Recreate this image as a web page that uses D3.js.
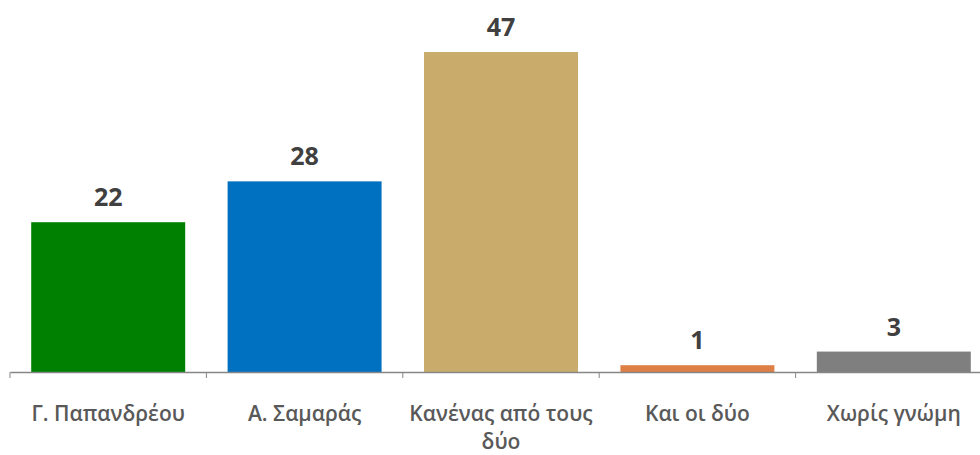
<!DOCTYPE html>
<html>
<head>
<meta charset="utf-8">
<script src="https://cdn.jsdelivr.net/npm/d3@7"></script>
<style>
  body { margin: 0; background: #fff; }
  svg { display: block; }
  .value { font-family: "Open Sans", sans-serif; font-weight: 700; font-size: 25px; fill: #404040; }
  .cat { font-family: "Open Sans", sans-serif; font-weight: 600; font-size: 21px; fill: #595959; }
</style>
</head>
<body>
<svg width="980" height="455"></svg>
<script>
// data
const categories = ['Γ. Παπανδρέου', 'Α. Σαμαράς', 'Κανένας από τους δύο', 'Και οι δύο', 'Χωρίς γνώμη'];
const values = [22, 28, 47, 1, 3];
const colors = ['#008000', '#0070C0', '#C9AC6C', '#DE7F45', '#7F7F7F'];

const svg = d3.select('svg');
const axisY = 372;

const x = d3.scaleBand()
    .domain(categories)
    .range([10, 992])
    .paddingInner(0.216)
    .paddingOuter(0.108);

const y = d3.scaleLinear()
    .domain([0, 47])
    .range([axisY, 52]);

// bars
svg.selectAll('rect.bar').data(values)
    .enter().append('rect')
    .attr('class', 'bar')
    .attr('x', (d, i) => x(categories[i]))
    .attr('y', d => y(d))
    .attr('width', x.bandwidth())
    .attr('height', d => axisY - y(d))
    .attr('fill', (d, i) => colors[i]);

// value labels
svg.selectAll('text.value').data(values)
    .enter().append('text')
    .attr('class', 'value')
    .attr('x', (d, i) => x(categories[i]) + x.bandwidth() / 2)
    .attr('y', d => y(d) - 16)
    .attr('text-anchor', 'middle')
    .text(d => d);

// x axis with ticks between categories
const axis = d3.axisBottom(x).tickSize(0).tickFormat('');
const gAxis = svg.append('g')
    .attr('transform', `translate(0,${axisY})`)
    .call(axis);
gAxis.select('.domain').attr('stroke', '#868686').attr('stroke-width', 1.5);

const step = x.step();
const start = x.range()[0];
svg.selectAll('line.tick').data(d3.range(categories.length + 1))
    .enter().append('line')
    .attr('x1', i => start + i * step)
    .attr('x2', i => start + i * step)
    .attr('y1', axisY)
    .attr('y2', axisY + 6)
    .attr('stroke', '#868686')
    .attr('stroke-width', 1);

// category labels (wrapped)
const labels = svg.selectAll('text.cat').data(categories)
    .enter().append('text')
    .attr('class', 'cat')
    .attr('x', d => x(d) + x.bandwidth() / 2)
    .attr('y', 421)
    .attr('text-anchor', 'middle');

labels.each(function(d) {
    const t = d3.select(this);
    const words = d.split(' ');
    let line = [];
    let tspan = t.append('tspan').attr('x', t.attr('x')).attr('dy', 0);
    words.forEach(w => {
        line.push(w);
        tspan.text(line.join(' '));
        if (tspan.node().getComputedTextLength() > 196 && line.length > 1) {
            line.pop();
            tspan.text(line.join(' '));
            line = [w];
            tspan = t.append('tspan').attr('x', t.attr('x')).attr('dy', 28).text(w);
        }
    });
});
</script>
</body>
</html>
